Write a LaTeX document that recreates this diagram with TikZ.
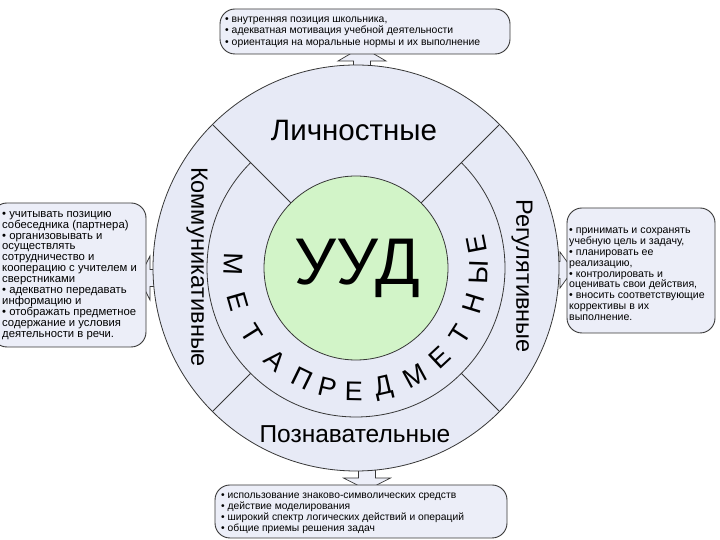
\documentclass[tikz,border=0pt]{standalone}
\usepackage{fontspec}
\setmainfont{Liberation Sans}
\begin{document}
\begin{tikzpicture}[x=1pt,y=1pt]
\definecolor{band}{RGB}{231,234,246}
\definecolor{boxfill}{RGB}{236,238,248}
\definecolor{core}{RGB}{210,244,200}
\definecolor{edge}{RGB}{55,55,55}
\tikzset{
  infobox/.style={draw=edge, line width=0.9pt, fill=boxfill, rounded corners=15pt, inner sep=0pt},
  blockarrow/.style={draw=edge, line width=0.7pt, fill=boxfill},
  ringline/.style={draw=edge, line width=0.8pt},
  boxtext/.style={anchor=north west, inner sep=0pt, align=left, text=black},
  sectorlabel/.style={inner sep=0pt, text=black, font=\fontsize{29.5}{32}\selectfont},
  arcletter/.style={inner sep=0pt, text=black, font=\fontsize{27}{29}\selectfont}
}
\useasboundingbox (0,0) rectangle (720,540);
\fill[white] (0,0) rectangle (720,540);
\coordinate (C) at (356,272);

% block arrows (partly hidden behind circle and boxes)
\draw[blockarrow] (353.5,462) -- (353.5,479) -- (338,479) -- (362,493) -- (386,479) -- (370.5,479) -- (370.5,462) -- cycle;
\draw[blockarrow] (358.5,76) -- (358.5,62) -- (343.5,62) -- (367,50) -- (390.5,62) -- (375.5,62) -- (375.5,76) -- cycle;
\draw[blockarrow] (165,253.5) -- (150,253.5) -- (150,240) -- (139,262) -- (150,284) -- (150,270.5) -- (165,270.5) -- cycle;
\draw[blockarrow] (548,261.5) -- (560,261.5) -- (560,252) -- (573,270) -- (560,288) -- (560,278.5) -- (548,278.5) -- cycle;

% circles
\fill[band] (C) circle (203);
\draw[ringline] (C) circle (203);
\draw[ringline] ([shift={(135:149)}]C) arc[start angle=135, end angle=405, radius=149];
\draw[ringline] ([shift={(135:92)}]C) -- ([shift={(135:203)}]C);
\draw[ringline] ([shift={(45:92)}]C) -- ([shift={(45:203)}]C);
\draw[ringline] ([shift={(225:149)}]C) -- ([shift={(225:203)}]C);
\draw[ringline] ([shift={(315:149)}]C) -- ([shift={(315:203)}]C);
\draw[ringline, fill=core] (C) circle (92);

% labels
\node[inner sep=0pt, font=\fontsize{66}{70}\selectfont] (uud) at (357,272) {УУД};
\node[sectorlabel] (lich) at (354,409) {Личностные};
\node[sectorlabel, font=\fontsize{24.5}{26}\selectfont] (pozn) at (355,106) {Познавательные};
\node[sectorlabel, font=\fontsize{23.5}{26}\selectfont, rotate=-90] (komm) at (197,273) {Коммуникативные};
\node[sectorlabel, font=\fontsize{23.5}{26}\selectfont, rotate=-90] (reg) at (522,264) {Регулятивные};
\foreach \ch/\a [count=\i] in {М/178,Е/196,Т/212,А/229,П/244,Р/256.5,Е/269,Д/283,М/298.5,Е/313,Т/327.5,Н/343,Ы/358,Е/371}
  \node[arcletter, rotate=\a+90] (meta\i) at ([shift={(\a:123)}]C) {\ch};

% boxes
\node[infobox, minimum width=290pt, minimum height=45pt] (topbox) at (365,508.5) {};
\node[infobox, minimum width=154pt, minimum height=144pt] (leftbox) at (69,265) {};
\node[infobox, minimum width=148pt, minimum height=125pt] (rightbox) at (641,269.5) {};
\node[infobox, minimum width=292pt, minimum height=53pt] (botbox) at (361,28.5) {};

\node[boxtext, font=\fontsize{10.4}{11.2}\selectfont] (toptext) at (225,523)
 {• внутренняя позиция школьника,\\• адекватная мотивация учебной деятельности\\• ориентация на моральные нормы и их выполнение};
\node[boxtext, font=\fontsize{11.3}{10.9}\selectfont] (lefttext) at (2,329)
 {• учитывать позицию\\собеседника (партнера)\\• организовывать и\\осуществлять\\сотрудничество и\\кооперацию с учителем и\\сверстниками\\• адекватно передавать\\информацию и\\• отображать предметное\\содержание и условия\\деятельности в речи.};
\node[boxtext, font=\fontsize{10.6}{10.8}\selectfont] (righttext) at (569,312)
 {• принимать и сохранять\\учебную цель и задачу,\\• планировать ее\\реализацию,\\• контролировать и\\оценивать свои действия,\\• вносить соответствующие\\коррективы в их\\выполнение.};
\node[boxtext, font=\fontsize{10.3}{11}\selectfont] (bottext) at (221,47)
 {• использование знаково-символических средств\\• действие моделирования\\• широкий спектр логических действий и операций\\• общие приемы решения задач};
\end{tikzpicture}
\end{document}
